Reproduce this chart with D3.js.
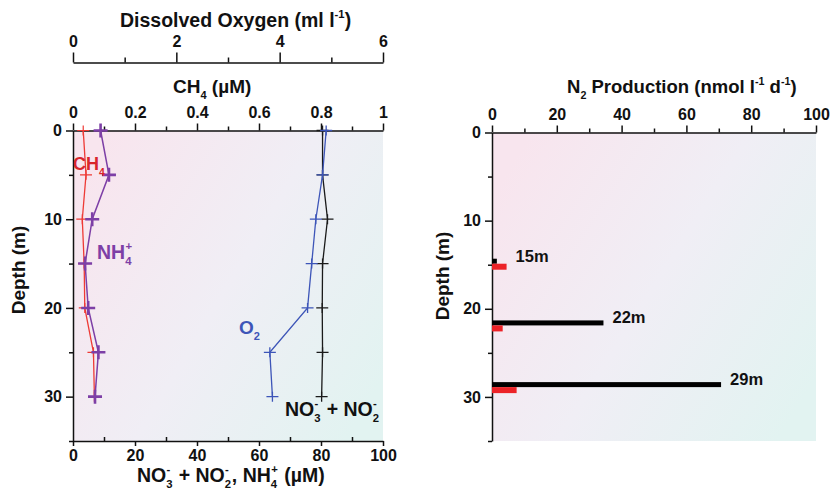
<!DOCTYPE html>
<html>
<head>
<meta charset="utf-8">
<script src="https://cdn.jsdelivr.net/npm/d3@7"></script>
<style>
  html, body { margin: 0; padding: 0; background: #ffffff; }
  svg { display: block; font-family: "Liberation Sans", Arial, sans-serif; font-weight: bold; }
</style>
</head>
<body>
<svg id="chart" width="836" height="493"></svg>
<script>
// Water-column profiles (left) and N2 production rates (right)
const depths = [0, 5, 10, 15, 20, 25, 30];
const ch4 = [0.033, 0.042, 0.030, 0.036, 0.038, 0.066, 0.069];      // µM, top axis
const nh4 = [8.9, 11.6, 6.2, 3.9, 4.9, 8.2, 7.1];                    // µM, bottom axis
const oxygen = [4.9, 4.83, 4.7, 4.62, 4.54, 3.81, 3.86];             // ml/l, uppermost axis
const nox = [80.5, 80.5, 82.1, 80.5, 80.4, 80.5, 80.2];              // µM, bottom axis

const n2Depths = [15, 22, 29];
const n2Labels = ["15m", "22m", "29m"];
const n2Black = [1.5, 34.4, 70.7];
const n2Red = [4.5, 3.3, 7.6];

const depthTicks = [0, 10, 20, 30];
const oxygenTicks = [0, 2, 4, 6];
const ch4Ticks = [0, 0.2, 0.4, 0.6, 0.8, 1];
const pctTicks = [0, 20, 40, 60, 80, 100];

const svg = d3.select("#chart");
const FONT = 16;

// ---------- helpers ----------
function richText(g, x, y, parts, opts = {}) {
  const size = opts.size || 16;
  const t = g.append("text")
    .attr("x", x).attr("y", y)
    .attr("font-size", size)
    .attr("fill", opts.fill || "#111")
    .attr("text-anchor", opts.anchor || "start");
  if (opts.rotate) t.attr("transform", `rotate(${opts.rotate},${x},${y})`);
  let cur = 0;
  parts.forEach(p => {
    const kind = typeof p === "string" ? "" : p.k;
    const str = typeof p === "string" ? p : p.t;
    let off = 0, fs = size;
    if (kind === "sub") { off = size * 0.33; fs = size * 0.58; }
    if (kind === "sup") { off = -size * 0.45; fs = size * 0.58; }
    const ts = t.append("tspan").attr("dy", off - cur).attr("font-size", fs).text(str);
    if (p.dx) ts.attr("dx", p.dx);
    cur = off;
  });
  return t;
}

function crossPath(xs, ys, h, v) {
  return xs.map((x, i) => `M${x - h},${ys[i]}H${x + h}M${x},${ys[i] - v}V${ys[i] + v}`).join("");
}

function styleAxis(sel) {
  sel.select(".domain").attr("stroke", "#111").attr("stroke-width", 1.5);
  sel.selectAll(".tick line").attr("stroke", "#111").attr("stroke-width", 1.5);
  sel.selectAll(".tick text").attr("font-size", FONT).attr("fill", "#111")
    .attr("font-family", "Liberation Sans, Arial, sans-serif").attr("font-weight", "bold");
}

function minorAxis(g, axisFn, scale, values, size) {
  g.call(axisFn(scale).tickValues(values).tickSize(size).tickFormat(""))
    .call(s => s.select(".domain").remove())
    .selectAll(".tick line").attr("stroke", "#111").attr("stroke-width", 1.5);
}

// gradient fill for both plot areas
const defs = svg.append("defs");
const grad = defs.append("linearGradient").attr("id", "bg")
  .attr("x1", "0").attr("y1", "0.2").attr("x2", "1").attr("y2", "0.8");
grad.append("stop").attr("offset", "0").attr("stop-color", "#f8e5ee");
grad.append("stop").attr("offset", "0.5").attr("stop-color", "#f0eef5");
grad.append("stop").attr("offset", "1").attr("stop-color", "#e2f3f1");

// ---------- left panel ----------
const L = { x0: 73, x1: 383, y0: 130.5, y1: 441 };
const xPct = d3.scaleLinear().domain([0, 100]).range([L.x0, L.x1]);
const xCh4 = d3.scaleLinear().domain([0, 1]).range([L.x0, L.x1]);
const xO2 = d3.scaleLinear().domain([0, 6]).range([L.x0, L.x1]);
const yL = d3.scaleLinear().domain([0, 35]).range([L.y0, L.y1]);

const left = svg.append("g");
left.append("rect").attr("x", L.x0).attr("y", L.y0)
  .attr("width", L.x1 - L.x0).attr("height", L.y1 - L.y0).attr("fill", "url(#bg)");

// dissolved oxygen axis
const oxAxisY = 62.5;
minorAxis(left.append("g").attr("transform", `translate(0,${oxAxisY})`), d3.axisTop, xO2, [1, 3, 5], 5);
left.append("g").attr("transform", `translate(0,${oxAxisY})`)
  .call(d3.axisTop(xO2).tickValues(oxygenTicks).tickSize(10).tickSizeOuter(0).tickPadding(6).tickFormat(d3.format("d")))
  .call(styleAxis);
richText(left, 120, 27, ["Dissolved Oxygen (ml l", { k: "sup", t: "-1" }, { k: "", t: ")" }], { size: 19.5 });

// CH4 axis
minorAxis(left.append("g").attr("transform", `translate(0,${L.y0})`), d3.axisTop, xCh4, [0.1, 0.3, 0.5, 0.7, 0.9], 4);
left.append("g").attr("transform", `translate(0,${L.y0})`)
  .call(d3.axisTop(xCh4).tickValues(ch4Ticks).tickSize(7).tickSizeOuter(0).tickPadding(6).tickFormat(d => d === 0 || d === 1 ? d3.format("d")(d) : d3.format(".1f")(d)))
  .call(styleAxis);
richText(left, 173, 93, ["CH", { k: "sub", t: "4" }, { k: "", t: " (µM)" }], { size: 19 });

// depth axis
minorAxis(left.append("g").attr("transform", `translate(${L.x0},0)`), d3.axisLeft, yL, [5, 15, 25, 35], 4);
left.append("g").attr("transform", `translate(${L.x0},0)`)
  .call(d3.axisLeft(yL).tickValues(depthTicks).tickSize(7).tickSizeOuter(0).tickPadding(4))
  .call(styleAxis);
richText(left, 25, 270, ["Depth (m)"], { size: 19, anchor: "middle", rotate: -90 });

// bottom concentration axis
minorAxis(left.append("g").attr("transform", `translate(0,${L.y1})`), d3.axisTop, xPct, [10, 30, 50, 70, 90], 4);
left.append("g").attr("transform", `translate(0,${L.y1})`)
  .call(d3.axisBottom(xPct).tickValues(pctTicks).tickSize(5).tickSizeOuter(0).tickPadding(4))
  .call(styleAxis);
richText(left, 137, 482, ["NO", { k: "sub", t: "3" }, { k: "sup", t: "-", dx: -6 }, { k: "", t: " + NO", dx: 3 },
  { k: "sub", t: "2" }, { k: "sup", t: "-", dx: -6 }, { k: "", t: ", NH", dx: 3 }, { k: "sub", t: "4" },
  { k: "sup", t: "+", dx: -6 }, { k: "", t: " (µM)", dx: 1 }], { size: 19.5 });

// profile lines
const profiles = [
  { vals: nox, x: xPct, color: "#1a1a1a", w: 1.3, h: 6, v: 5, mw: 1.3 },
  { vals: oxygen, x: xO2, color: "#3d55b8", w: 1.3, h: 6, v: 5, mw: 1.3 },
  { vals: ch4, x: xCh4, color: "#ee3a35", w: 1.3, h: 6, v: 5, mw: 1.2 },
  { vals: nh4, x: xPct, color: "#7d3fa6", w: 1.5, h: 7, v: 7, mw: 2.6 }
];
const line = d3.line();
profiles.forEach(p => {
  const xs = p.vals.map(v => p.x(v));
  const ys = depths.map(d => yL(d));
  left.append("path").attr("d", line(xs.map((x, i) => [x, ys[i]])))
    .attr("fill", "none").attr("stroke", p.color).attr("stroke-width", p.w);
  left.append("path").attr("d", crossPath(xs, ys, p.h, p.v))
    .attr("fill", "none").attr("stroke", p.color).attr("stroke-width", p.mw);
});

// series labels
richText(left, 73, 170, ["CH", { k: "sub", t: "4" }], { size: 18, fill: "#d8262b" });
richText(left, 97, 259, ["NH", { k: "sub", t: "4" }, { k: "sup", t: "+", dx: -6 }], { size: 19.5, fill: "#7d3fa6" });
richText(left, 239, 334, ["O", { k: "sub", t: "2" }], { size: 19, fill: "#3d55b8" });
richText(left, 285, 416, ["NO", { k: "sub", t: "3" }, { k: "sup", t: "-", dx: -6 }, { k: "", t: " + NO", dx: 3 },
  { k: "sub", t: "2" }, { k: "sup", t: "-", dx: -6 }], { size: 19.5, fill: "#111" });

// ---------- right panel ----------
const R = { x0: 492, x1: 816, y0: 132.5, y1: 441 };
const xN2 = d3.scaleLinear().domain([0, 100]).range([R.x0, R.x1]);
const yR = d3.scaleLinear().domain([0, 35]).range([R.y0, R.y1]);

const right = svg.append("g");
right.append("rect").attr("x", R.x0).attr("y", R.y0)
  .attr("width", R.x1 - R.x0).attr("height", R.y1 - R.y0).attr("fill", "url(#bg)");

minorAxis(right.append("g").attr("transform", `translate(0,${R.y0})`), d3.axisTop, xN2, [10, 30, 50, 70, 90], 4);
right.append("g").attr("transform", `translate(0,${R.y0})`)
  .call(d3.axisTop(xN2).tickValues(pctTicks).tickSize(7).tickSizeOuter(0).tickPadding(6))
  .call(styleAxis);
richText(right, 567, 93, ["N", { k: "sub", t: "2" }, { k: "", t: " Production (nmol l" }, { k: "sup", t: "-1" },
  { k: "", t: " d" }, { k: "sup", t: "-1" }, { k: "", t: ")" }], { size: 18.5 });

minorAxis(right.append("g").attr("transform", `translate(${R.x0},0)`), d3.axisLeft, yR, [5, 15, 25, 35], 4);
right.append("g").attr("transform", `translate(${R.x0},0)`)
  .call(d3.axisLeft(yR).tickValues(depthTicks).tickSize(7).tickSizeOuter(0).tickPadding(4))
  .call(styleAxis);
richText(right, 449, 276, ["Depth (m)"], { size: 19, anchor: "middle", rotate: -90 });

// paired bars: black just above each sampled depth, red just below
const barH = 5;
right.selectAll("rect.black").data(n2Depths).join("rect")
  .attr("x", xN2(0)).attr("y", d => yR(d) - barH - 1)
  .attr("width", (d, i) => xN2(n2Black[i]) - xN2(0)).attr("height", barH)
  .attr("fill", "#000");
right.selectAll("rect.red").data(n2Depths).join("rect")
  .attr("x", xN2(0)).attr("y", d => yR(d) - 1)
  .attr("width", (d, i) => xN2(n2Red[i]) - xN2(0)).attr("height", barH + 1)
  .attr("fill", "#ec2227");
n2Depths.forEach((d, i) => {
  const end = xN2(Math.max(n2Black[i], n2Red[i]));
  richText(right, end + 9, yR(d) - 3, [n2Labels[i]], { size: 16.5 });
});
</script>
</body>
</html>
